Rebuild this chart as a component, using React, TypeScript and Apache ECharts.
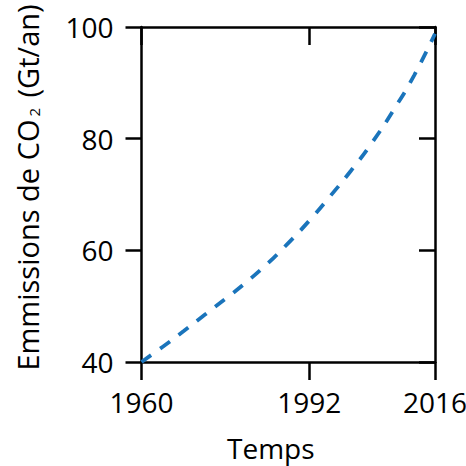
import React, { useEffect, useRef } from "react";
import * as echarts from "echarts";

// Data (year, emissions in Gt/an)
const years = [1960, 1964, 1968, 1972, 1976, 1980, 1984, 1988, 1992, 1996, 2000, 2004, 2008, 2012, 2016];
const emissions = [40.0, 42.7, 45.5, 48.4, 51.3, 54.3, 57.6, 61.3, 65.3, 69.7, 74.3, 79.3, 85.0, 91.3, 98.8];

const xTicks = [1960, 1992, 2016];
const yTicks = [40, 60, 80, 100];

const FONT = "Open Sans";
const INK = "#000000";
const BLUE = "#1a74bb";

export default function App() {
  const ref = useRef<HTMLDivElement>(null);

  useEffect(() => {
    if (!ref.current) return;
    const chart = echarts.init(ref.current, null, { renderer: "svg" });

    const axisLine = { show: true, lineStyle: { color: INK, width: 2.5 } };
    const tickStyle = { color: INK, width: 2.5 };
    const labelStyle = { color: INK, fontSize: 28, fontFamily: FONT };

    chart.setOption({
      animation: false,
      backgroundColor: "#ffffff",
      grid: {
        left: 141.5,
        right: 31,
        top: 27,
        bottom: 104,
        outerBoundsMode: "none",
        containLabel: false,
      },
      xAxis: [
        {
          type: "value",
          position: "bottom",
          min: 1960,
          max: 2016,
          axisLine,
          axisTick: { show: true, inside: false, length: 18, lineStyle: tickStyle, customValues: xTicks },
          axisLabel: { ...labelStyle, margin: 26, customValues: xTicks, formatter: (v: number) => String(v) },
          splitLine: { show: false },
          name: "Temps",
          nameLocation: "middle",
          nameGap: 72,
          nameTextStyle: { ...labelStyle, lineHeight: 28, padding: [0, 35, 0, 0] },
        },
        {
          type: "value",
          position: "top",
          min: 1960,
          max: 2016,
          axisLine,
          axisTick: { show: true, inside: true, length: 18, lineStyle: tickStyle, customValues: xTicks },
          axisLabel: { show: false },
          splitLine: { show: false },
        },
      ],
      yAxis: [
        {
          type: "value",
          position: "left",
          min: 40,
          max: 100,
          interval: 20,
          axisLine,
          axisTick: { show: true, inside: false, length: 16, lineStyle: tickStyle },
          axisLabel: { ...labelStyle, margin: 28, customValues: yTicks, formatter: (v: number) => String(v) },
          splitLine: { show: false },
          name: "{a|Emmissions de CO}{s|2}{a| (Gt/an)}",
          nameLocation: "middle",
          nameGap: 100,
          nameTextStyle: {
            padding: [0, 0, 0, 14],
            rich: {
              a: { fontSize: 29, fontFamily: FONT, color: INK, lineHeight: 29 },
              s: { fontSize: 15, fontFamily: FONT, color: INK, lineHeight: 2, verticalAlign: "bottom", padding: [0, 3, 0, 3] },
            },
          },
        },
        {
          type: "value",
          position: "right",
          min: 40,
          max: 100,
          interval: 20,
          axisLine,
          axisTick: { show: true, inside: true, length: 16, lineStyle: tickStyle },
          axisLabel: { show: false },
          splitLine: { show: false },
        },
      ],
      series: [
        {
          type: "line",
          xAxisIndex: 0,
          yAxisIndex: 0,
          data: years.map((y, i) => [y, emissions[i]]),
          smooth: true,
          showSymbol: false,
          symbol: "none",
          lineStyle: { color: BLUE, width: 3.8, type: [12, 11], cap: "butt" },
          silent: true,
        },
      ],
    });

    return () => chart.dispose();
  }, []);

  return (
    <div
      ref={ref}
      style={{ position: "fixed", left: 0, top: 0, width: 466, height: 466, background: "#fff" }}
    />
  );
}
